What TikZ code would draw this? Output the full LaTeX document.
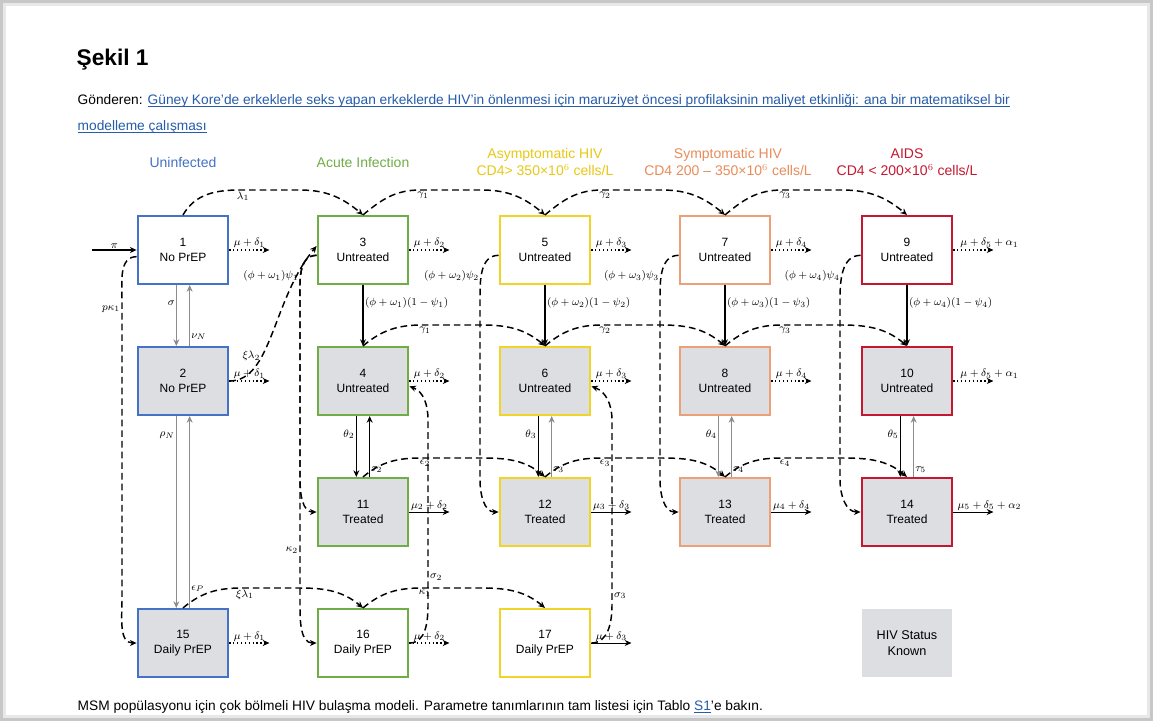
\documentclass[tikz,border=0pt]{standalone}
\usepackage{fontspec}
\setmainfont{Liberation Sans}
\usetikzlibrary{arrows.meta}

\definecolor{cUninf}{RGB}{68,114,196}
\definecolor{cAcute}{RGB}{112,173,71}
\definecolor{cAsym}{RGB}{240,212,40}
\definecolor{cSymp}{RGB}{236,160,120}
\definecolor{cAids}{RGB}{196,24,48}
\definecolor{hAsym}{RGB}{232,200,20}
\definecolor{hSymp}{RGB}{232,140,90}
\definecolor{knowngray}{RGB}{221,222,226}
\definecolor{link}{RGB}{38,92,170}

% underlined link text
\newcommand{\ulink}[1]{\textcolor{link}{\setbox0\hbox{#1}\rlap{\rule[-1.8pt]{\wd0}{0.5pt}}\box0}}

\tikzset{
  comp/.style={draw, line width=1.6pt, minimum width=68pt, minimum height=51pt,
    inner sep=1pt, align=center, font=\fontsize{9}{11.5}\selectfont},
  unk/.style={comp, fill=white},
  knw/.style={comp, fill=knowngray},
  hdr/.style={align=center, font=\fontsize{10.5}{13}\selectfont},
  lbl/.style={font=\fontsize{8}{9}\selectfont, inner sep=1pt},
  dflow/.style={line width=1.1pt, dash pattern=on 5pt off 3pt, -{Stealth[length=5pt,width=4.5pt]}},
  oflow/.style={line width=0.9pt, dotted, -{Stealth[length=5pt,width=4.5pt]}},
  sflow/.style={line width=1pt, -{Stealth[length=5pt,width=4.5pt]}},
  tflow/.style={line width=0.5pt, black!45, -{Stealth[length=5pt,width=4.5pt]}},
}

\begin{document}
\begin{tikzpicture}[x=0.75pt, y=0.75pt]
  \useasboundingbox (0,0) rectangle (1153,-721);

  % page card
  \fill[black!22] (0,0) rectangle (1153,-721);
  \fill[black!9] (3,-3) rectangle (1150,-718);
  \fill[white] (6,-6) rectangle (1147,-715);

  % title and source
  \node[anchor=west, font=\fontsize{17}{20}\selectfont\bfseries] (title) at (72,-60) {Şekil 1};
  \node[anchor=west, font=\fontsize{10.3}{12}\selectfont] (src1) at (73,-101)
    {Gönderen: \ulink{Güney Kore'de erkeklerle seks yapan erkeklerde HIV'in önlenmesi için maruziyet öncesi profilaksinin maliyet etkinliği: ana bir matematiksel bir}};
  \node[anchor=west, font=\fontsize{10.3}{12}\selectfont] (src2) at (73,-127)
    {\ulink{modelleme çalışması}};

  % column headers
  \node[hdr, text=cUninf] (h1) at (183,-162) {Uninfected};
  \node[hdr, text=cAcute] (h2) at (363,-162) {Acute Infection};
  \node[hdr, text=hAsym] (h3) at (545,-162) {Asymptomatic HIV\\CD4> 350×10$^6$ cells/L};
  \node[hdr, text=hSymp] (h4) at (728,-162) {Symptomatic HIV\\CD4 200 -- 350×10$^6$ cells/L};
  \node[hdr, text=cAids] (h5) at (907,-162) {AIDS\\CD4 < 200×10$^6$ cells/L};

  % compartments
  \node[unk, draw=cUninf] (b1) at (183,-250) {1\\No PrEP};
  \node[knw, draw=cUninf] (b2) at (183,-381) {2\\No PrEP};
  \node[knw, draw=cUninf] (b15) at (183,-643) {15\\Daily PrEP};
  \node[unk, draw=cAcute] (b3) at (363,-250) {3\\Untreated};
  \node[knw, draw=cAcute] (b4) at (363,-381) {4\\Untreated};
  \node[knw, draw=cAcute] (b11) at (363,-512) {11\\Treated};
  \node[unk, draw=cAcute] (b16) at (363,-643) {16\\Daily PrEP};
  \node[unk, draw=cAsym] (b5) at (545,-250) {5\\Untreated};
  \node[knw, draw=cAsym] (b6) at (545,-381) {6\\Untreated};
  \node[knw, draw=cAsym] (b12) at (545,-512) {12\\Treated};
  \node[unk, draw=cAsym] (b17) at (545,-643) {17\\Daily PrEP};
  \node[unk, draw=cSymp] (b7) at (725,-250) {7\\Untreated};
  \node[knw, draw=cSymp] (b8) at (725,-381) {8\\Untreated};
  \node[knw, draw=cSymp] (b13) at (725,-512) {13\\Treated};
  \node[unk, draw=cAids] (b9) at (907,-250) {9\\Untreated};
  \node[knw, draw=cAids] (b10) at (907,-381) {10\\Untreated};
  \node[knw, draw=cAids] (b14) at (907,-512) {14\\Treated};

  % legend
  \node[comp, draw=none, fill=knowngray, font=\fontsize{9.5}{12}\selectfont] (key) at (907,-643) {HIV Status\\Known};

  % entry
  \coordinate (entry) at (92,-250);
  \draw[sflow] (entry) -- node[lbl, above] {$\pi$} (b1.west);

  % progression, undiagnosed
  \draw[dflow] (b1.north) to[out=60,in=180] (240,-190) -- node[lbl, pos=0.05, below] {$\lambda_1$} (300,-190) to[out=0,in=140] (b3.north);
  \draw[dflow] (b3.north) to[out=40,in=180] (420,-190) -- node[lbl, pos=0.05, below] {$\gamma_1$} (482,-190) to[out=0,in=140] (b5.north);
  \draw[dflow] (b5.north) to[out=40,in=180] (602,-190) -- node[lbl, pos=0.05, below] {$\gamma_2$} (662,-190) to[out=0,in=140] (b7.north);
  \draw[dflow] (b7.north) to[out=40,in=180] (782,-190) -- node[lbl, pos=0.05, below] {$\gamma_3$} (842,-190) to[out=0,in=140] (b9.north);

  % progression, diagnosed untreated
  \draw[dflow] (b4.north) to[out=40,in=180] (422,-325) -- node[lbl, pos=0.05, below] {$\gamma_1$} (482,-325) to[out=0,in=140] (b6.north);
  \draw[dflow] (b6.north) to[out=40,in=180] (602,-325) -- node[lbl, pos=0.05, below] {$\gamma_2$} (662,-325) to[out=0,in=140] (b8.north);
  \draw[dflow] (b8.north) to[out=40,in=180] (782,-325) -- node[lbl, pos=0.05, below] {$\gamma_3$} (842,-325) to[out=0,in=140] (b10.north);

  % progression, treated
  \draw[dflow] (b11.north) to[out=40,in=180] (422,-458) -- node[lbl, pos=0.05, below] {$\epsilon_2$} (482,-458) to[out=0,in=140] (b12.north);
  \draw[dflow] (b12.north) to[out=40,in=180] (602,-458) -- node[lbl, pos=0.05, below] {$\epsilon_3$} (662,-458) to[out=0,in=140] (b13.north);
  \draw[dflow] (b13.north) to[out=40,in=180] (782,-458) -- node[lbl, pos=0.05, below] {$\epsilon_4$} (842,-458) to[out=0,in=140] (b14.north);

  % infection and progression on PrEP
  \draw[dflow] (b15.north) to[out=40,in=180] (242,-588) -- node[lbl, pos=0.05, below] {$\xi\lambda_1$} (300,-588) to[out=0,in=140] (b16.north);
  \draw[dflow] (b16.north) to[out=40,in=180] (422,-588) -- node[lbl, pos=0.05, below] {$\kappa_1$} (482,-588) to[out=0,in=140] (b17.north);

  % diagnosis with immediate treatment
  \draw[dflow] ([yshift=-4pt]b3.west) to[out=180,in=90] node[lbl, left, pos=0.6] {$(\phi+\omega_1)\psi_1$} (300,-300) -- (300,-480) to[out=-90,in=180] (b11.west);
  \draw[dflow] ([yshift=-4pt]b3.west) to[out=180,in=90] (300,-300) -- node[lbl, left, pos=0.82] {$\kappa_2$} (300,-605) to[out=-90,in=180] (b16.west);
  \draw[dflow] ([yshift=-4pt]b5.west) to[out=180,in=90] node[lbl, left, pos=0.6] {$(\phi+\omega_2)\psi_2$} (480,-300) -- (480,-480) to[out=-90,in=180] (b12.west);
  \draw[dflow] ([yshift=-4pt]b7.west) to[out=180,in=90] node[lbl, left, pos=0.6] {$(\phi+\omega_3)\psi_3$} (660,-300) -- (660,-480) to[out=-90,in=180] (b13.west);
  \draw[dflow] ([yshift=-4pt]b9.west) to[out=180,in=90] node[lbl, left, pos=0.6] {$(\phi+\omega_4)\psi_4$} (840,-300) -- (840,-480) to[out=-90,in=180] (b14.west);

  % diagnosis without treatment
  \draw[sflow] (b3.south) -- node[lbl, right, pos=0.3] {$(\phi+\omega_1)(1-\psi_1)$} (b4.north);
  \draw[sflow] (b5.south) -- node[lbl, right, pos=0.3] {$(\phi+\omega_2)(1-\psi_2)$} (b6.north);
  \draw[sflow] (b7.south) -- node[lbl, right, pos=0.3] {$(\phi+\omega_3)(1-\psi_3)$} (b8.north);
  \draw[sflow] (b9.south) -- node[lbl, right, pos=0.3] {$(\phi+\omega_4)(1-\psi_4)$} (b10.north);

  % treatment start and dropout
  \draw[sflow] ([xshift=-5pt]b4.south) -- node[lbl, left, pos=0.3] {$\theta_2$} ([xshift=-5pt]b11.north);
  \draw[sflow] ([xshift=5pt]b11.north) -- node[lbl, right, pos=0.12] {$\tau_2$} ([xshift=5pt]b4.south);
  \draw[sflow] ([xshift=-5pt]b6.south) -- node[lbl, left, pos=0.3] {$\theta_3$} ([xshift=-5pt]b12.north);
  \draw[tflow] ([xshift=5pt]b12.north) -- node[lbl, black, right, pos=0.12] {$\tau_3$} ([xshift=5pt]b6.south);
  \draw[tflow] ([xshift=-5pt]b8.south) -- node[lbl, black, left, pos=0.3] {$\theta_4$} ([xshift=-5pt]b13.north);
  \draw[tflow] ([xshift=5pt]b13.north) -- node[lbl, black, right, pos=0.12] {$\tau_4$} ([xshift=5pt]b8.south);
  \draw[sflow] ([xshift=-5pt]b10.south) -- node[lbl, left, pos=0.3] {$\theta_5$} ([xshift=-5pt]b14.north);
  \draw[tflow] ([xshift=5pt]b14.north) -- node[lbl, black, right, pos=0.12] {$\tau_5$} ([xshift=5pt]b10.south);

  % testing and PrEP uptake, uninfected
  \draw[tflow] ([xshift=-5pt]b1.south) -- node[lbl, black, left, pos=0.3] {$\sigma$} ([xshift=-5pt]b2.north);
  \draw[tflow] ([xshift=5pt]b2.north) -- node[lbl, black, right, pos=0.15] {$\nu_N$} ([xshift=5pt]b1.south);
  \draw[tflow] ([xshift=-5pt]b2.south) -- node[lbl, black, left, pos=0.1] {$\rho_N$} ([xshift=-5pt]b15.north);
  \draw[tflow] ([xshift=5pt]b15.north) -- node[lbl, black, right, pos=0.1] {$\epsilon_P$} ([xshift=5pt]b2.south);
  \draw[dflow] ([yshift=-5pt]b1.west) to[out=180,in=90] (122,-300) -- node[lbl, left, pos=0.03] {$p\kappa_1$} (122,-600) to[out=-90,in=180] (b15.west);

  % infection after a negative test
  \draw[dflow] (b2.east) .. controls (272,-381) and (272,-300) .. node[lbl, left, pos=0.35] {$\xi\lambda_2$} ([yshift=3pt]b3.west);

  % diagnosis while on PrEP
  \draw[dflow] (b16.east) to[out=0,in=-90] (428,-605) -- node[lbl, right, pos=0.15] {$\sigma_2$} (428,-420) to[out=90,in=-20] ([yshift=-4pt]b4.east);
  \draw[dflow] (b17.east) to[out=0,in=-90] (612,-605) -- node[lbl, right, pos=0.05] {$\sigma_3$} (612,-420) to[out=90,in=-20] ([yshift=-4pt]b6.east);

  % removal
  \draw[oflow] (b1.east) -- node[lbl, above] {$\mu+\delta_1$} ++(40,0);
  \draw[oflow] (b3.east) -- node[lbl, above] {$\mu+\delta_2$} ++(40,0);
  \draw[oflow] (b5.east) -- node[lbl, above] {$\mu+\delta_3$} ++(40,0);
  \draw[oflow] (b7.east) -- node[lbl, above] {$\mu+\delta_4$} ++(40,0);
  \draw[oflow] (b9.east) -- node[lbl, above, xshift=12pt] {$\mu+\delta_5+\alpha_1$} ++(40,0);
  \draw[oflow] (b2.east) -- node[lbl, above] {$\mu+\delta_1$} ++(40,0);
  \draw[oflow] (b4.east) -- node[lbl, above] {$\mu+\delta_2$} ++(40,0);
  \draw[oflow] (b6.east) -- node[lbl, above] {$\mu+\delta_3$} ++(40,0);
  \draw[oflow] (b8.east) -- node[lbl, above] {$\mu+\delta_4$} ++(40,0);
  \draw[oflow] (b10.east) -- node[lbl, above, xshift=12pt] {$\mu+\delta_5+\alpha_1$} ++(40,0);
  \draw[sflow, line width=0.6pt] (b11.east) -- node[lbl, above] {$\mu_2+\delta_2$} ++(40,0);
  \draw[sflow, line width=0.6pt] (b12.east) -- node[lbl, above] {$\mu_3+\delta_3$} ++(40,0);
  \draw[sflow, line width=0.6pt] (b13.east) -- node[lbl, above] {$\mu_4+\delta_4$} ++(40,0);
  \draw[sflow, line width=0.6pt] (b14.east) -- node[lbl, above, xshift=12pt] {$\mu_5+\delta_5+\alpha_2$} ++(40,0);
  \draw[oflow] (b15.east) -- node[lbl, above] {$\mu+\delta_1$} ++(40,0);
  \draw[oflow] (b16.east) -- node[lbl, above] {$\mu+\delta_2$} ++(40,0);
  \draw[sflow, line width=0.6pt] (b17.east) -- node[lbl, above] {$\mu+\delta_3$} ++(40,0);

  % caption
  \node[anchor=west, font=\fontsize{10.3}{12}\selectfont] (cap) at (73,-707)
    {MSM popülasyonu için çok bölmeli HIV bulaşma modeli. Parametre tanımlarının tam listesi için Tablo \ulink{S1}'e bakın.};
\end{tikzpicture}
\end{document}
